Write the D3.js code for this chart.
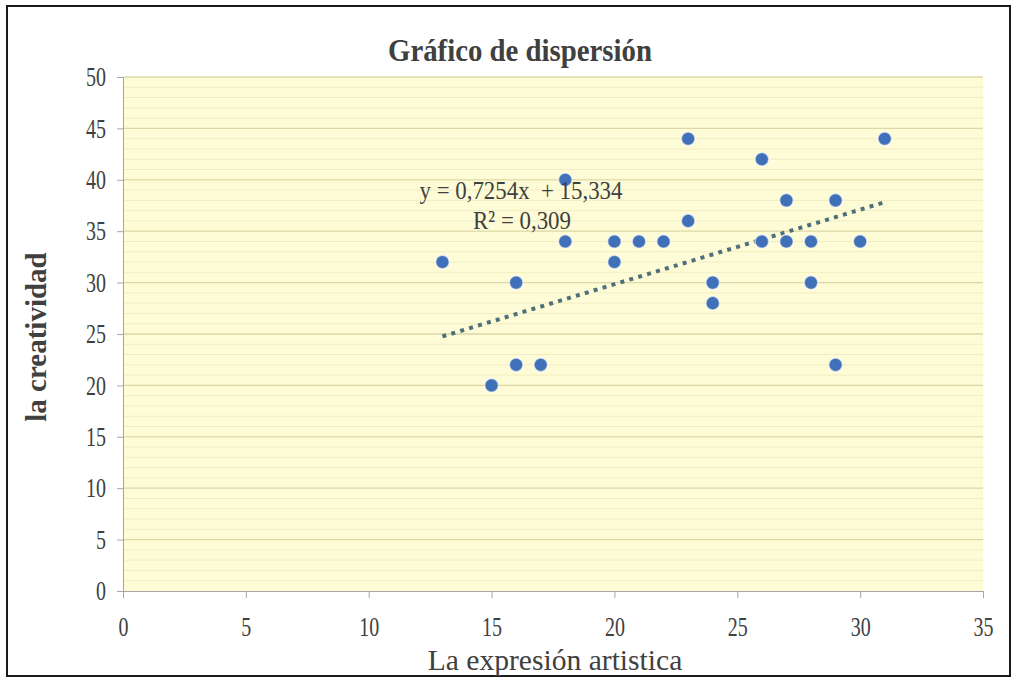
<!DOCTYPE html>
<html>
<head>
<meta charset="utf-8">
<script src="https://cdn.jsdelivr.net/npm/d3@7"></script>
<style>
  body { margin: 0; background: #fff; }
  text { font-family: "Liberation Serif", "Times New Roman", serif; fill: #404040; white-space: pre; }
</style>
</head>
<body>
<div id="chart"></div>
<script>
// data
var expresion   = [13, 15, 16, 16, 17, 18, 18, 20, 20, 21, 22, 23, 23, 24, 24, 26, 26, 27, 27, 28, 28, 29, 29, 30, 31];
var creatividad = [32, 20, 30, 22, 22, 40, 34, 34, 32, 34, 34, 44, 36, 30, 28, 42, 34, 38, 34, 34, 30, 38, 22, 34, 44];
var xTicks = [0, 5, 10, 15, 20, 25, 30, 35];
var yTicks = [0, 5, 10, 15, 20, 25, 30, 35, 40, 45, 50];
var trendCoef = [0.7254, 15.334];   // slope, intercept
var trendRange = [13, 31];
var trendLabels = ["y = 0,7254x  + 15,334", "R\u00b2 = 0,309"];

var W = 1016, H = 680;
var m = { left: 123, right: 33, top: 77, bottom: 89 };
var tickSx = 0.74; // horizontal squeeze to mimic the condensed serif

var svg = d3.select("#chart").append("svg")
    .attr("width", W).attr("height", H);

// outer frame
svg.append("rect")
    .attr("x", 7).attr("y", 6).attr("width", 1003).attr("height", 670)
    .attr("fill", "#fff").attr("stroke", "#1a1a1a").attr("stroke-width", 2);

var x = d3.scaleLinear().domain([0, 35]).range([m.left, W - m.right]);
var y = d3.scaleLinear().domain([0, 50]).range([H - m.bottom, m.top]);

// plot background
svg.append("rect")
    .attr("x", x(0)).attr("y", y(50))
    .attr("width", x(35) - x(0)).attr("height", y(0) - y(50))
    .attr("fill", "#fefcd6");

// minor grid (every 1)
svg.append("g").selectAll("line")
    .data(d3.range(0, 51).filter(function(d) { return d % 5 !== 0; }))
    .enter().append("line")
    .attr("x1", x(0)).attr("x2", x(35))
    .attr("y1", function(d) { return y(d); }).attr("y2", function(d) { return y(d); })
    .attr("stroke", "#f1edc2").attr("stroke-width", 1);

// major grid
svg.append("g").selectAll("line")
    .data(yTicks.filter(function(d) { return d > 0; }))
    .enter().append("line")
    .attr("x1", x(0)).attr("x2", x(35))
    .attr("y1", function(d) { return y(d); }).attr("y2", function(d) { return y(d); })
    .attr("stroke", "#dcd7a4").attr("stroke-width", 1.3);

function squeeze(sel) {
    sel.selectAll("text").each(function() {
        var t = d3.select(this);
        var tx = +t.attr("x") || 0;
        var ty = +t.attr("y") || 0;
        t.attr("transform", "translate(" + tx + "," + ty + ") scale(" + tickSx + ",1)")
            .attr("x", 0).attr("y", 0);
    });
}

var yAxis = svg.append("g")
    .attr("transform", "translate(" + x(0) + ",0)")
    .call(d3.axisLeft(y).tickValues(yTicks).tickSize(6).tickPadding(11));
yAxis.select(".domain").attr("stroke", "#a6a6a6");
yAxis.selectAll(".tick line").attr("stroke", "#a6a6a6");
yAxis.selectAll("text").attr("font-size", 27).attr("fill", "#404040")
    .style("font-family", "Liberation Serif");
squeeze(yAxis);

var xAxis = svg.append("g")
    .attr("transform", "translate(0," + y(0) + ")")
    .call(d3.axisBottom(x).tickValues(xTicks).tickSize(7).tickPadding(19));
xAxis.select(".domain").attr("stroke", "#a6a6a6");
xAxis.selectAll(".tick line").attr("stroke", "#a6a6a6");
xAxis.selectAll("text").attr("font-size", 27).attr("fill", "#404040")
    .style("font-family", "Liberation Serif");
squeeze(xAxis);

// trend line
var line = d3.line()
    .x(function(d) { return x(d); })
    .y(function(d) { return y(trendCoef[0] * d + trendCoef[1]); });
svg.append("path")
    .datum(trendRange)
    .attr("d", line)
    .attr("fill", "none")
    .attr("stroke", "#4e6f7c")
    .attr("stroke-width", 4)
    .attr("stroke-dasharray", "4 5.3");

// points
svg.append("g").selectAll("circle")
    .data(d3.range(expresion.length))
    .enter().append("circle")
    .attr("cx", function(i) { return x(expresion[i]); })
    .attr("cy", function(i) { return y(creatividad[i]); })
    .attr("r", 6.8)
    .attr("fill", "#3f70b8")
    .attr("stroke", "#ffffff").attr("stroke-opacity", 0.6).attr("stroke-width", 1.5);

// text helper: squeezed, centred label
function label(txt, px, py, size, sx, weight, rot) {
    var tr = "translate(" + px + "," + py + ")" + (rot ? " rotate(" + rot + ")" : "") + " scale(" + sx + ",1)";
    return svg.append("text")
        .attr("transform", tr)
        .attr("text-anchor", "middle")
        .attr("font-size", size)
        .attr("font-weight", weight || "normal")
        .text(txt);
}
label(trendLabels[0], 521, 199, 26, 0.88);
label(trendLabels[1], 522, 229, 26, 0.88);

// titles
label("Gr\u00e1fico de dispersi\u00f3n", 520, 61, 32, 0.9, "bold");
label("La expresi\u00f3n artistica", 555, 670, 29, 1.02);
label("la creatividad", 46, 337, 29, 1.0, "bold", -90);
</script>
</body>
</html>
